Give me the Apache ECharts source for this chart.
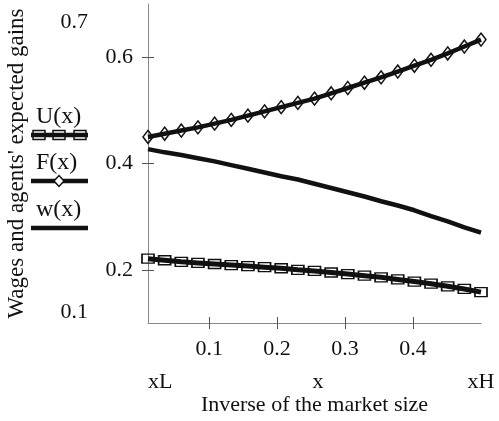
<!DOCTYPE html>
<html>
<head>
<meta charset="UTF-8">
<title>wages</title>
<script src="https://cdn.jsdelivr.net/npm/echarts@6/dist/echarts.min.js"></script>
<style>
	html, body { margin: 0; padding: 0; background: #fff; }
	#chart { width: 499px; height: 421px; }
</style>
</head>
<body>
<div id="chart"></div>
<script>
// inverse of the market size, sample points between xL and xH
var xs = [0.01, 0.0345, 0.059, 0.0835, 0.108, 0.1325, 0.157, 0.1815, 0.206, 0.2305, 0.255,
	0.2795, 0.304, 0.3285, 0.353, 0.3775, 0.402, 0.4265, 0.451, 0.4755, 0.5];
var uVals = [0.221, 0.218, 0.215, 0.213, 0.211, 0.209, 0.207, 0.205, 0.203, 0.200, 0.198,
	0.195, 0.192, 0.189, 0.186, 0.182, 0.178, 0.174, 0.169, 0.164, 0.158];
var fVals = [0.450, 0.456, 0.462, 0.468, 0.475, 0.482, 0.490, 0.498, 0.506, 0.514, 0.522,
	0.532, 0.542, 0.552, 0.562, 0.573, 0.584, 0.595, 0.607, 0.620, 0.633];
var wVals = [0.427, 0.421, 0.416, 0.410, 0.404, 0.397, 0.390, 0.383, 0.376, 0.370, 0.362,
	0.354, 0.346, 0.338, 0.329, 0.321, 0.312, 0.301, 0.291, 0.280, 0.270];
var seriesNames = ['U(x)', 'F(x)', 'w(x)'];

var yTicks = [0.2, 0.4, 0.6];
var yBounds = [0.1, 0.7];
var xTicks = [0.1, 0.2, 0.3, 0.4];
var xMarks = [0.01, 0.26, 0.5];
var xMarkLabels = ['xL', 'x', 'xH'];

var FONT = '"Liberation Serif", "DejaVu Serif", serif';
var INK = '#111';

function pairs(vals) {
	var out = [];
	for (var i = 0; i < xs.length; i++) out.push([xs[i], vals[i]]);
	return out;
}

// legend drawn by hand: name above a sample of the line
function legendItem(i, top, symbols) {
	var kids = [
		{ type: 'text', left: 36, top: top, style: { text: seriesNames[i], font: '24px ' + FONT, fill: INK } },
		{ type: 'line', shape: { x1: 31, y1: top + 30, x2: 88, y2: top + 30 }, style: { stroke: INK, lineWidth: 4.5 } }
	];
	return kids.concat(symbols);
}

var legend = [];
legend = legend.concat(legendItem(0, 105, [39, 59, 80].map(function (cx) {
	return { type: 'rect', shape: { x: cx - 6, y: 130.5, width: 12, height: 9 }, style: { fill: 'none', stroke: INK, lineWidth: 1.5 } };
})));
legend = legend.concat(legendItem(1, 151, [
	{ type: 'polygon', shape: { points: [[59, 175.5], [64, 181], [59, 186.5], [54, 181]] }, style: { fill: '#fff', stroke: INK, lineWidth: 1.5 } }
]));
legend = legend.concat(legendItem(2, 198, []));

var chart = echarts.init(document.getElementById('chart'));
chart.setOption({
	animation: false,
	backgroundColor: '#fff',
	grid: { left: 148, right: 18, top: 4, bottom: 98, containLabel: false, outerBoundsMode: 'none' },
	xAxis: [{
		type: 'value', min: 0.01, max: 0.5,
		name: 'Inverse of the market size', nameLocation: 'middle', nameGap: 71,
		nameTextStyle: { fontFamily: FONT, fontSize: 22, color: INK },
		axisLine: { lineStyle: { color: '#888', width: 1 } },
		axisTick: { customValues: xTicks, length: 6, lineStyle: { color: '#555' } },
		axisLabel: { customValues: xTicks, margin: 15, fontFamily: FONT, fontSize: 22, color: INK },
		splitLine: { show: false }
	}, {
		type: 'value', min: 0.01, max: 0.5, position: 'bottom',
		axisLine: { show: false },
		axisTick: { customValues: xTicks, inside: true, length: 6, lineStyle: { color: '#555' } },
		axisLabel: {
			customValues: xMarks, margin: 48, fontFamily: FONT, fontSize: 22, color: INK,
			alignMinLabel: 'left',
			formatter: function (v) { return xMarkLabels[xMarks.indexOf(v)]; }
		},
		splitLine: { show: false }
	}],
	yAxis: [{
		type: 'value', min: 0.1, max: 0.7,
		name: "Wages and agents' expected gains", nameLocation: 'middle', nameGap: 120,
		nameTextStyle: { fontFamily: FONT, fontSize: 23, color: INK },
		axisLine: { show: true, lineStyle: { color: '#888', width: 1 } },
		axisTick: { show: true, customValues: yTicks, length: 6, lineStyle: { color: '#555' } },
		axisLabel: { customValues: yTicks, margin: 15, fontFamily: FONT, fontSize: 22, color: INK },
		splitLine: { show: false }
	}, {
		type: 'value', min: 0.1, max: 0.7, position: 'left',
		axisLine: { show: false },
		axisTick: { show: true, customValues: yTicks, inside: true, length: 6, lineStyle: { color: '#555' } },
		axisLabel: {
			customValues: yBounds, margin: 60, fontFamily: FONT, fontSize: 22, color: INK,
			verticalAlignMaxLabel: 'top', verticalAlignMinLabel: 'bottom',
			formatter: function (v) { return v > 0.5 ? '{hi|' + v.toFixed(1) + '}' : v.toFixed(1); },
			rich: { hi: { fontFamily: FONT, fontSize: 22, color: INK, padding: [7, 0, 0, 0] } }
		},
		splitLine: { show: false }
	}],
	series: [{
		name: seriesNames[0], type: 'line', data: pairs(uVals),
		symbol: 'rect', symbolSize: [12, 9], showAllSymbol: true,
		lineStyle: { color: INK, width: 5 },
		itemStyle: { color: 'transparent', borderColor: INK, borderWidth: 1.5 }
	}, {
		name: seriesNames[1], type: 'line', data: pairs(fVals),
		symbol: 'diamond', symbolSize: [10, 13], showAllSymbol: true,
		lineStyle: { color: INK, width: 4.5 },
		itemStyle: { color: 'transparent', borderColor: INK, borderWidth: 1.5 }
	}, {
		name: seriesNames[2], type: 'line', data: pairs(wVals),
		symbol: 'none',
		lineStyle: { color: INK, width: 4.5 }
	}],
	graphic: legend
});
</script>
</body>
</html>
